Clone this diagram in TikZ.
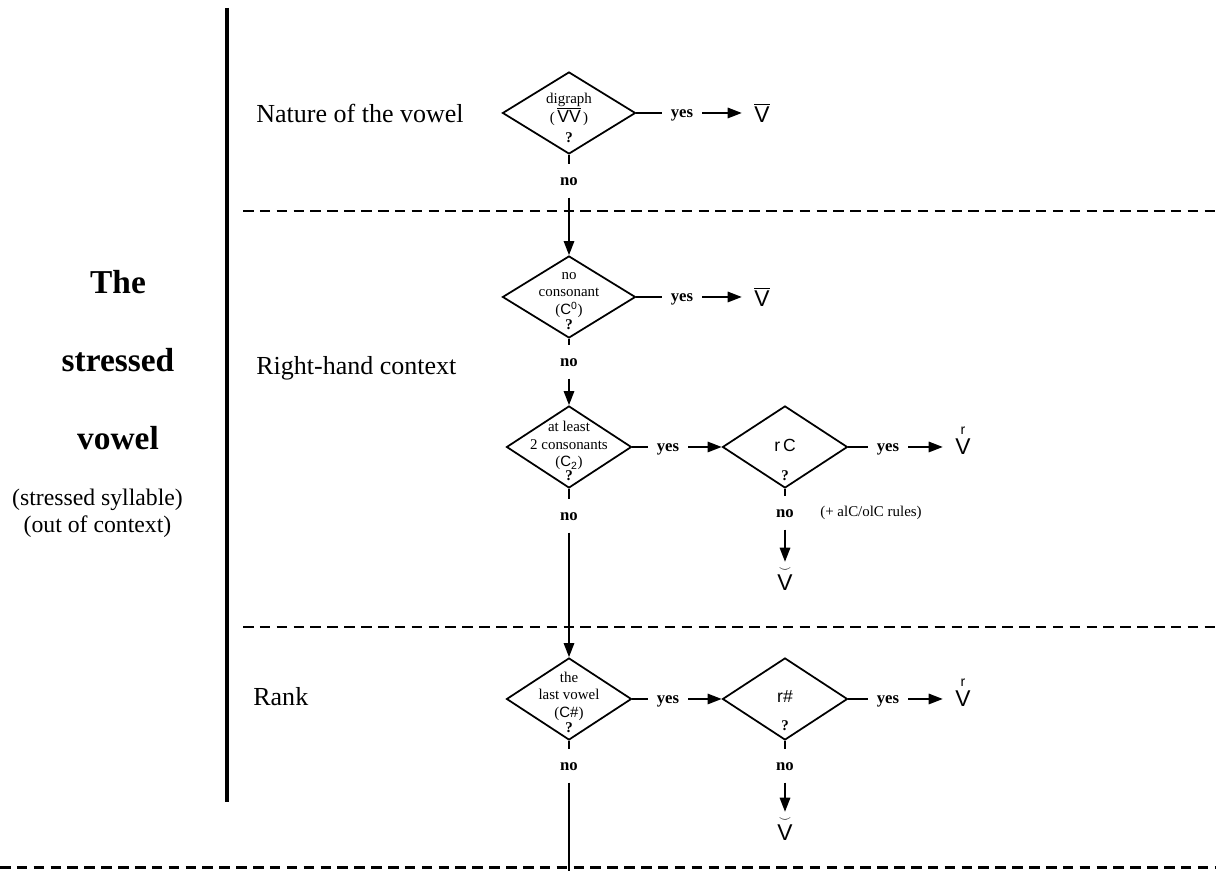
\documentclass[tikz,border=0pt]{standalone}
\usepackage{fontspec}
\setmainfont{Liberation Serif}
\setsansfont{Liberation Sans}
\usetikzlibrary{shapes,arrows.meta}

\begin{document}
\begin{tikzpicture}[
  decision/.style={shape=diamond,draw=black,line width=1pt,inner sep=0pt,minimum width=2.66cm,minimum height=1.64cm},
  narrow/.style={decision,minimum width=2.5cm},
  question/.style={align=center,inner sep=0pt,font=\fontsize{8.5}{10}\selectfont},
  yeslabel/.style={font=\bfseries\fontsize{9.5}{10}\selectfont,inner xsep=5pt,inner ysep=3pt,text height=1ex,text depth=0pt},
  nolabel/.style={font=\bfseries\fontsize{9.5}{10}\selectfont,inner xsep=2pt,inner ysep=7pt,text height=1ex,text depth=0pt},
  vowel/.style={font=\sffamily\fontsize{13}{14}\selectfont,inner sep=2pt},
  rmark/.style={font=\sffamily\fontsize{8}{8}\selectfont,inner sep=0pt,label distance=0pt},
  section/.style={anchor=west,font=\fontsize{14.8}{17}\selectfont,inner sep=0pt},
  title/.style={font=\bfseries\fontsize{19}{22}\selectfont,inner sep=0pt},
  link/.style={draw=black,line width=0.8pt},
  arr/.style={-{Triangle[length=8pt,width=6pt]},draw=black,line width=0.8pt},
  divider/.style={draw=black,line width=1.2pt,dash pattern=on 6pt off 3.6pt}]
\useasboundingbox (0,0) rectangle (24.36,17.42);

\draw [line width=2pt] (4.54,17.26) -- (4.54,1.38);
\draw [divider] (4.86,13.2) -- (24.3,13.2);
\draw [divider] (4.86,4.88) -- (24.3,4.88);
\draw [divider,line width=1.7pt] (0,0.06) -- (24.3,0.06);

\node[title] (the) at (2.36,11.78) {The};
\node[title] (stressed) at (2.36,10.22) {stressed};
\node[title] (vw) at (2.36,8.66) {vowel};
\node[align=center,inner sep=0pt,font=\fontsize{13.5}{15.5}\selectfont] (sub) at (1.95,7.16) {(stressed syllable)\\(out of context)};

\node[section] (nature) at (5.12,15.16) {Nature of the vowel};
\node[section] (context) at (5.12,10.06) {Right-hand context};
\node[section] (rank) at (5.06,3.48) {Rank};

\node[decision] (0) at (11.38,15.16) {};
\node[decision] (1) at (11.38,11.48) {};
\node[narrow] (2) at (11.38,8.48) {};
\node[narrow] (3) at (15.7,8.48) {};
\node[narrow] (4) at (11.38,3.44) {};
\node[narrow] (5) at (15.7,3.44) {};

\node[question] (q0) at (11.38,15.06) {digraph\\[-1pt](\,$\overline{\hbox{\sffamily\fontsize{10}{10}\selectfont VV}}$\,)\\[1pt]\textbf{?}};
\node[question] (q1) at (11.38,11.4) {no\\consonant\\(\textsf{C}\textsuperscript{\textsf{0}})\\[-1.5pt]\textbf{?}};
\node[question] (q2) at (11.38,8.4) {at least\\2 consonants\\(\textsf{C}\textsubscript{\textsf{2}})\\[-2pt]\textbf{?}};
\node[question] (q3) at (15.7,8.22) {\textsf{\fontsize{10}{10}\selectfont r\,C}\\[6pt]\textbf{?}};
\node[question] (q4) at (11.38,3.38) {the\\last vowel\\(\textsf{C\#})\\[-1.5pt]\textbf{?}};
\node[question] (q5) at (15.7,3.2) {\textsf{\fontsize{10}{10}\selectfont r\#}\\[6pt]\textbf{?}};

\node[yeslabel] (y0) at (13.64,15.16) {yes};
\node[yeslabel] (y1) at (13.64,11.48) {yes};
\node[yeslabel] (y2) at (13.36,8.48) {yes};
\node[yeslabel] (y3) at (17.76,8.48) {yes};
\node[yeslabel] (y4) at (13.36,3.44) {yes};
\node[yeslabel] (y5) at (17.76,3.44) {yes};

\node[nolabel] (n0) at (11.38,13.8) {no};
\node[nolabel] (n1) at (11.38,10.18) {no};
\node[nolabel] (n2) at (11.38,7.1) {no};
\node[nolabel] (n3) at (15.7,7.16) {no};
\node[nolabel] (n4) at (11.38,2.1) {no};
\node[nolabel] (n5) at (15.7,2.1) {no};
\node[font=\fontsize{8.5}{10}\selectfont,inner sep=0pt] (rules) at (17.42,7.16) {(+ alC/olC rules)};

\node[vowel] (v0) at (15.24,15.16) {$\overline{\hbox{V}}$};
\node[vowel] (v1) at (15.24,11.48) {$\overline{\hbox{V}}$};
\node[vowel,label={[rmark]above:r}] (v2) at (19.26,8.48) {V};
\node[vowel] (v3) at (15.7,5.86) {$\stackrel{\scriptscriptstyle\smile}{\hbox{V}}$};
\node[vowel,label={[rmark]above:r}] (v4) at (19.26,3.44) {V};
\node[vowel] (v5) at (15.7,0.86) {$\stackrel{\scriptscriptstyle\smile}{\hbox{V}}$};
\coordinate (end) at (11.38,0);

\path [link] (0) edge (y0);
\path [arr,shorten >=5pt] (y0) edge (v0);
\path [link] (0) edge (n0);
\path [arr] (n0) edge (1);
\path [link] (1) edge (y1);
\path [arr,shorten >=5pt] (y1) edge (v1);
\path [link] (1) edge (n1);
\path [arr] (n1) edge (2);
\path [link] (2) edge (y2);
\path [arr] (y2) edge (3);
\path [link] (3) edge (y3);
\path [arr,shorten >=5pt] (y3) edge (v2);
\path [link] (3) edge (n3);
\path [arr] (n3) edge (v3);
\path [link] (2) edge (n2);
\path [arr] (n2) edge (4);
\path [link] (4) edge (y4);
\path [arr] (y4) edge (5);
\path [link] (5) edge (y5);
\path [arr,shorten >=5pt] (y5) edge (v4);
\path [link] (5) edge (n5);
\path [arr] (n5) edge (v5);
\path [link] (4) edge (n4);
\path [link] (n4) edge (end);
\end{tikzpicture}
\end{document}
